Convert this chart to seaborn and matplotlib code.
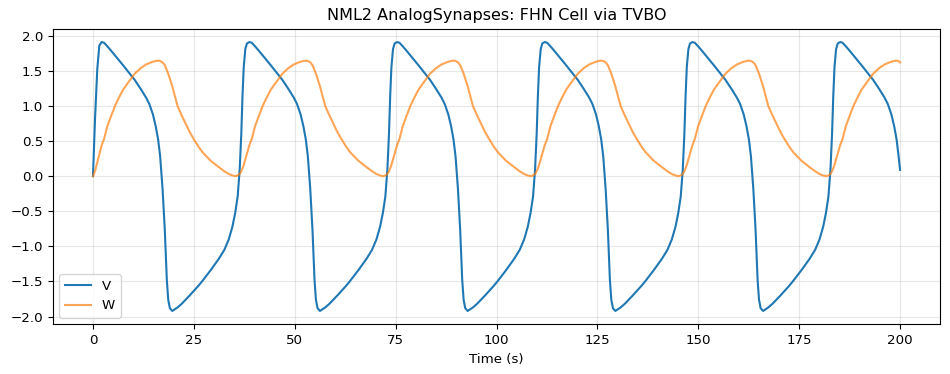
import pandas as pd
import matplotlib
matplotlib.use("Agg")
import matplotlib.pyplot as plt
import seaborn as sns

# values, one row per cycle (peak to peak)
time_s = [
    0.0, 0.5, 1.07, 1.57,
    2.15, 2.75, 3.55, 4.45, 5.45, 6.45, 7.45, 8.55, 10.35, 11.85, 13.15, 13.95, 14.85, 15.55, 16.15,
    16.65, 17.25, 17.8, 18.3, 18.65, 19.05, 19.65, 20.95, 21.95, 22.95, 23.95, 25.05, 26.15, 27.15, 28.15,
    29.15, 31.15, 32.55, 33.65, 34.55, 35.25, 35.85, 36.35, 36.75, 37.05, 37.35, 37.75, 38.15,
    38.75, 39.35, 40.15, 41.05, 42.05, 43.05, 44.05, 45.15, 46.95, 48.45, 49.75, 50.55, 51.45, 52.15, 52.75,
    53.25, 53.85, 54.4, 54.9, 55.25, 55.65, 56.25, 57.55, 58.55, 59.55, 60.55, 61.65, 62.75, 63.75, 64.75,
    65.75, 67.75, 69.15, 70.25, 71.15, 71.85, 72.45, 72.95, 73.35, 73.65, 73.95, 74.35, 74.75,
    75.35, 75.95, 76.75, 77.65, 78.65, 79.65, 80.65, 81.75, 83.55, 85.05, 86.35, 87.15, 88.05, 88.75, 89.35,
    89.85, 90.45, 91.0, 91.5, 91.85, 92.25, 92.85, 94.15, 95.15, 96.15, 97.15, 98.25, 99.35, 100.35, 101.35,
    102.35, 104.35, 105.75, 106.85, 107.75, 108.45, 109.05, 109.55, 109.95, 110.25, 110.55, 110.95, 111.35,
    111.95, 112.55, 113.35, 114.25, 115.25, 116.25, 117.25, 118.35, 120.15, 121.65, 122.95, 123.75, 124.65, 125.35, 125.95,
    126.45, 127.05, 127.6, 128.1, 128.45, 128.85, 129.45, 130.75, 131.75, 132.75, 133.75, 134.85, 135.95, 136.95, 137.95,
    138.95, 140.95, 142.35, 143.45, 144.35, 145.05, 145.65, 146.15, 146.55, 146.85, 147.15, 147.55, 147.95,
    148.55, 149.15, 149.95, 150.85, 151.85, 152.85, 153.85, 154.95, 156.75, 158.25, 159.55, 160.35, 161.25, 161.95, 162.55,
    163.05, 163.65, 164.2, 164.7, 165.05, 165.45, 166.05, 167.35, 168.35, 169.35, 170.35, 171.45, 172.55, 173.55, 174.55,
    175.55, 177.55, 178.95, 180.05, 180.95, 181.65, 182.25, 182.75, 183.15, 183.45, 183.75, 184.15, 184.55,
    185.15, 185.75, 186.55, 187.45, 188.45, 189.45, 190.45, 191.55, 193.35, 194.85, 196.15, 196.95, 197.85, 198.55, 199.15,
    199.65, 200.0,
]

v_values = [
    0.0, 0.81, 1.53, 1.86,
    1.91, 1.90, 1.85, 1.79, 1.72, 1.65, 1.58, 1.50, 1.37, 1.24, 1.12, 1.03, 0.88, 0.71, 0.52,
    0.28, -0.19, -0.77, -1.48, -1.76, -1.88, -1.92, -1.87, -1.82, -1.76, -1.70, -1.63, -1.56, -1.49, -1.415,
    -1.34, -1.18, -1.05, -0.90, -0.72, -0.52, -0.29, 0.09, 0.60, 1.14, 1.55, 1.81, 1.89,
    1.91, 1.90, 1.85, 1.79, 1.72, 1.65, 1.58, 1.50, 1.37, 1.24, 1.12, 1.03, 0.88, 0.71, 0.52,
    0.28, -0.19, -0.77, -1.48, -1.76, -1.88, -1.92, -1.87, -1.82, -1.76, -1.70, -1.63, -1.56, -1.49, -1.415,
    -1.34, -1.18, -1.05, -0.90, -0.72, -0.52, -0.29, 0.09, 0.60, 1.14, 1.55, 1.81, 1.89,
    1.91, 1.90, 1.85, 1.79, 1.72, 1.65, 1.58, 1.50, 1.37, 1.24, 1.12, 1.03, 0.88, 0.71, 0.52,
    0.28, -0.19, -0.77, -1.48, -1.76, -1.88, -1.92, -1.87, -1.82, -1.76, -1.70, -1.63, -1.56, -1.49, -1.415,
    -1.34, -1.18, -1.05, -0.90, -0.72, -0.52, -0.29, 0.09, 0.60, 1.14, 1.55, 1.81, 1.89,
    1.91, 1.90, 1.85, 1.79, 1.72, 1.65, 1.58, 1.50, 1.37, 1.24, 1.12, 1.03, 0.88, 0.71, 0.52,
    0.28, -0.19, -0.77, -1.48, -1.76, -1.88, -1.92, -1.87, -1.82, -1.76, -1.70, -1.63, -1.56, -1.49, -1.415,
    -1.34, -1.18, -1.05, -0.90, -0.72, -0.52, -0.29, 0.09, 0.60, 1.14, 1.55, 1.81, 1.89,
    1.91, 1.90, 1.85, 1.79, 1.72, 1.65, 1.58, 1.50, 1.37, 1.24, 1.12, 1.03, 0.88, 0.71, 0.52,
    0.28, -0.19, -0.77, -1.48, -1.76, -1.88, -1.92, -1.87, -1.82, -1.76, -1.70, -1.63, -1.56, -1.49, -1.415,
    -1.34, -1.18, -1.05, -0.90, -0.72, -0.52, -0.29, 0.09, 0.60, 1.14, 1.55, 1.81, 1.89,
    1.91, 1.90, 1.85, 1.79, 1.72, 1.65, 1.58, 1.50, 1.37, 1.24, 1.12, 1.03, 0.88, 0.71, 0.52,
    0.28, 0.09,
]

w_values = [
    0.0, 0.07, 0.20, 0.31,
    0.44, 0.53, 0.71, 0.85, 1.00, 1.12, 1.23, 1.32, 1.46, 1.54, 1.59, 1.61, 1.63, 1.64, 1.645,
    1.64, 1.62, 1.58, 1.51, 1.46, 1.39, 1.28, 1.00, 0.87, 0.75, 0.63, 0.52, 0.42, 0.34, 0.28,
    0.22, 0.13, 0.07, 0.03, 0.01, 0.0, 0.01, 0.03, 0.07, 0.11, 0.16, 0.24, 0.32,
    0.44, 0.53, 0.71, 0.85, 1.00, 1.12, 1.23, 1.32, 1.46, 1.54, 1.59, 1.61, 1.63, 1.64, 1.645,
    1.64, 1.62, 1.58, 1.51, 1.46, 1.39, 1.28, 1.00, 0.87, 0.75, 0.63, 0.52, 0.42, 0.34, 0.28,
    0.22, 0.13, 0.07, 0.03, 0.01, 0.0, 0.01, 0.03, 0.07, 0.11, 0.16, 0.24, 0.32,
    0.44, 0.53, 0.71, 0.85, 1.00, 1.12, 1.23, 1.32, 1.46, 1.54, 1.59, 1.61, 1.63, 1.64, 1.645,
    1.64, 1.62, 1.58, 1.51, 1.46, 1.39, 1.28, 1.00, 0.87, 0.75, 0.63, 0.52, 0.42, 0.34, 0.28,
    0.22, 0.13, 0.07, 0.03, 0.01, 0.0, 0.01, 0.03, 0.07, 0.11, 0.16, 0.24, 0.32,
    0.44, 0.53, 0.71, 0.85, 1.00, 1.12, 1.23, 1.32, 1.46, 1.54, 1.59, 1.61, 1.63, 1.64, 1.645,
    1.64, 1.62, 1.58, 1.51, 1.46, 1.39, 1.28, 1.00, 0.87, 0.75, 0.63, 0.52, 0.42, 0.34, 0.28,
    0.22, 0.13, 0.07, 0.03, 0.01, 0.0, 0.01, 0.03, 0.07, 0.11, 0.16, 0.24, 0.32,
    0.44, 0.53, 0.71, 0.85, 1.00, 1.12, 1.23, 1.32, 1.46, 1.54, 1.59, 1.61, 1.63, 1.64, 1.645,
    1.64, 1.62, 1.58, 1.51, 1.46, 1.39, 1.28, 1.00, 0.87, 0.75, 0.63, 0.52, 0.42, 0.34, 0.28,
    0.22, 0.13, 0.07, 0.03, 0.01, 0.0, 0.01, 0.03, 0.07, 0.11, 0.16, 0.24, 0.32,
    0.44, 0.53, 0.71, 0.85, 1.00, 1.12, 1.23, 1.32, 1.46, 1.54, 1.59, 1.61, 1.63, 1.64, 1.645,
    1.64, 1.62,
]

df = pd.DataFrame({"Time": time_s, "V": v_values, "W": w_values})

fig, ax = plt.subplots(figsize=(9.5, 3.74), dpi=100)
fig.subplots_adjust(left=0.0554, right=0.9899, bottom=0.1326, top=0.9235)

sns.lineplot(data=df, x="Time", y="V", ax=ax, color="tab:blue", linewidth=1.5, label="V")
sns.lineplot(data=df, x="Time", y="W", ax=ax, color="tab:orange", alpha=0.7, linewidth=1.5, label="W")

ax.set_title("NML2 AnalogSynapses: FHN Cell via TVBO", fontsize=11.5)
ax.set_xlabel("Time (s)", fontsize=9.6)
ax.set_ylabel("")
ax.tick_params(labelsize=9.6)
ax.grid(True, alpha=0.3)
ax.legend(loc="lower left", fontsize=9.6)

fig.savefig("out.png", dpi=100)
